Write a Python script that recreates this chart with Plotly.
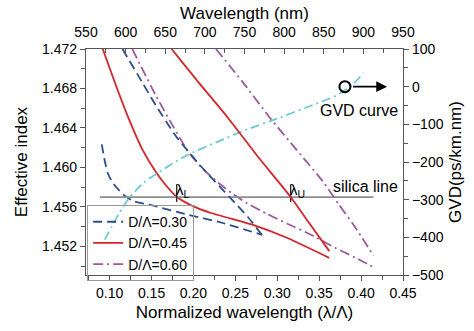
import plotly.graph_objects as go

# ---- Effective index vs normalized wavelength (bottom axis) ----
nw_030 = [0.0906, 0.0941, 0.0977, 0.1035, 0.1153, 0.1270, 0.1552, 0.1940, 0.2327, 0.2821]
ne_030 = [1.46234, 1.46070, 1.45944, 1.45848, 1.45732, 1.45664, 1.45606, 1.45519, 1.45442, 1.45316]

nw_045 = [0.0918, 0.1070, 0.1223, 0.1388, 0.1552, 0.1681, 0.1799, 0.1975, 0.2210, 0.2727, 0.3114, 0.3619]
ne_045 = [1.4720, 1.46843, 1.46504, 1.46186, 1.45954, 1.45809, 1.45703, 1.45616, 1.45538, 1.45413, 1.45287, 1.45084]

nw_060 = [0.1270, 0.1552, 0.1763, 0.1940, 0.2116, 0.2292, 0.2468, 0.2644, 0.2879, 0.3114, 0.3408, 0.3701, 0.3936, 0.4148]
ne_060 = [1.4720, 1.46727, 1.46408, 1.46157, 1.45983, 1.45848, 1.45732, 1.45635, 1.45529, 1.45432, 1.45316, 1.45181, 1.45084, 1.44988]

# ---- Effective index vs wavelength in nm (top axis) ----
wl_030 = [596, 621, 638, 664, 695, 733, 754, 772]
nl_030 = [1.4720, 1.46862, 1.46630, 1.46311, 1.46012, 1.45683, 1.45500, 1.45316]

wl_045 = [658, 692, 729, 766, 808, 832, 857]
nl_045 = [1.4720, 1.46862, 1.46504, 1.46118, 1.45703, 1.45432, 1.45152]

wl_060 = [714, 748, 782, 816, 849, 869, 888, 913]
nl_060 = [1.4720, 1.46862, 1.46504, 1.46176, 1.45857, 1.45625, 1.45413, 1.45104]

# ---- GVD curve (right axis) ----
gvd_x = [0.0941, 0.1023, 0.1117, 0.1235, 0.1411, 0.1587, 0.1904, 0.2292, 0.2644, 0.2997, 0.3384, 0.3701, 0.3901, 0.4030]
gvd_y = [-406, -373, -335, -295, -254, -227, -184, -146, -113, -85, -52, -24, 6, 37]

# ---- silica line and markers ----
silica_n = 1.457
silica_x = [0.0883, 0.4148]
lambda_L = 0.180
lambda_U = 0.316
tick_n = [1.4565, 1.4583]
gvd_marker_x = 0.3807
gvd_arrow_end = 0.431

RED = "#d3262b"
BLUE = "#2d4e8e"
PURPLE = "#9a5b9b"
CYAN = "#6ccbd0"
GRAY = "#8c8c8c"
AX = "#555555"
FONT = "Liberation Sans, Arial, sans-serif"

fig = go.Figure()

def ln(color, dash=None):
    d = dict(color=color, width=1.8, shape="spline", smoothing=0.6)
    if dash:
        d["dash"] = dash
    return d

DASH = "9px,5px"
DASHDOT = "10px,4px,2px,4px"

# bottom-axis curves (with legend)
fig.add_trace(go.Scatter(x=nw_030, y=ne_030, mode="lines", name="D/Λ=0.30", line=ln(BLUE, DASH)))
fig.add_trace(go.Scatter(x=nw_045, y=ne_045, mode="lines", name="D/Λ=0.45", line=ln(RED)))
fig.add_trace(go.Scatter(x=nw_060, y=ne_060, mode="lines", name="D/Λ=0.60", line=ln(PURPLE, DASHDOT)))

# top-axis curves
fig.add_trace(go.Scatter(x=wl_030, y=nl_030, mode="lines", xaxis="x2", yaxis="y", showlegend=False,
                         line=ln(BLUE, DASH)))
fig.add_trace(go.Scatter(x=wl_045, y=nl_045, mode="lines", xaxis="x2", yaxis="y", showlegend=False,
                         line=ln(RED)))
fig.add_trace(go.Scatter(x=wl_060, y=nl_060, mode="lines", xaxis="x2", yaxis="y", showlegend=False,
                         line=ln(PURPLE, DASHDOT)))

# silica line
fig.add_trace(go.Scatter(x=silica_x, y=[silica_n, silica_n], mode="lines", showlegend=False,
                         line=dict(color=GRAY, width=1.8)))
# lambda ticks
for lx in (lambda_L, lambda_U):
    fig.add_trace(go.Scatter(x=[lx, lx], y=tick_n, mode="lines", showlegend=False,
                             line=dict(color="#222222", width=1.3)))

# GVD curve
fig.add_trace(go.Scatter(x=gvd_x, y=gvd_y, mode="lines", xaxis="x", yaxis="y2", showlegend=False,
                         line=ln(CYAN, "9px,4px,2px,4px")))
fig.add_trace(go.Scatter(x=[gvd_marker_x], y=[0], mode="markers", xaxis="x", yaxis="y2", showlegend=False,
                         marker=dict(symbol="circle-open", size=11, color="black", line=dict(width=2))))

annotations = [
    dict(x=gvd_arrow_end, y=0, xref="x", yref="y2", ax=gvd_marker_x + 0.008, ay=0, axref="x", ayref="y2",
         text="", showarrow=True, arrowhead=2, arrowsize=1.2, arrowwidth=1.8, arrowcolor="black"),
    dict(x=0.4465, y=-62, xref="x", yref="y2", text="GVD curve", showarrow=False,
         xanchor="right", yanchor="middle", font=dict(size=16, color="black", family=FONT)),
    dict(x=0.4465, y=1.4581, xref="x", yref="y", text="silica line", showarrow=False,
         xanchor="right", yanchor="middle", font=dict(size=16, color="black", family=FONT)),
    dict(x=lambda_L, y=1.4577, xref="x", yref="y", text="λ<sub>L</sub>", showarrow=False,
         xanchor="left", yanchor="middle", xshift=-3, font=dict(size=15, color="black", family=FONT)),
    dict(x=lambda_U, y=1.4577, xref="x", yref="y", text="λ<sub>U</sub>", showarrow=False,
         xanchor="left", yanchor="middle", xshift=-3, font=dict(size=15, color="black", family=FONT)),
]

axis_common = dict(showgrid=False, zeroline=False, showline=True, linecolor=AX, linewidth=1.3,
                   tickcolor=AX, tickfont=dict(size=14, color="black", family=FONT))

fig.update_layout(
    width=474, height=331,
    margin=dict(l=86, r=66, t=38, b=56),
    paper_bgcolor="white", plot_bgcolor="white",
    font=dict(family=FONT, color="black"),
    xaxis=dict(range=[0.0718, 0.45], dtick=0.05, tick0=0.1, tickformat=".2f",
               ticks="outside", ticklen=5,
               minor=dict(dtick=0.025, tick0=0.075, ticks="outside", ticklen=4, tickcolor=AX),
               title=dict(text="Normalized wavelength (λ/Λ)", font=dict(size=17, family=FONT), standoff=6),
               **axis_common),
    xaxis2=dict(range=[550, 950], dtick=50, tick0=550, overlaying="x", side="top", anchor="y",
                ticks="inside", ticklen=5, ticklabelstandoff=5,
                minor=dict(dtick=25, ticks="inside", ticklen=4, tickcolor=AX),
                title=dict(text="Wavelength (nm)", font=dict(size=17, family=FONT), standoff=0),
                **axis_common),
    yaxis=dict(range=[1.4491, 1.472], dtick=0.004, tick0=1.452, tickformat=".3f",
               ticks="outside", ticklen=5,
               minor=dict(dtick=0.002, ticks="outside", ticklen=4, tickcolor=AX),
               title=dict(text="Effective index", font=dict(size=17, family=FONT), standoff=10),
               **axis_common),
    yaxis2=dict(range=[-500, 100], dtick=100, overlaying="y", side="right", anchor="x",
                ticks="outside", ticklen=5,
                minor=dict(dtick=50, ticks="outside", ticklen=4, tickcolor=AX),
                title=dict(text="GVD(ps/km.nm)", font=dict(size=17, family=FONT), standoff=6),
                **axis_common),
    legend=dict(x=0.003, y=0.31, xanchor="left", yanchor="top",
                bgcolor="rgba(255,255,255,0)", bordercolor="#999999", borderwidth=1.2,
                font=dict(size=14, family=FONT, color="black"), tracegroupgap=0),
    annotations=annotations,
    showlegend=True,
)

fig.write_html("out.html")
